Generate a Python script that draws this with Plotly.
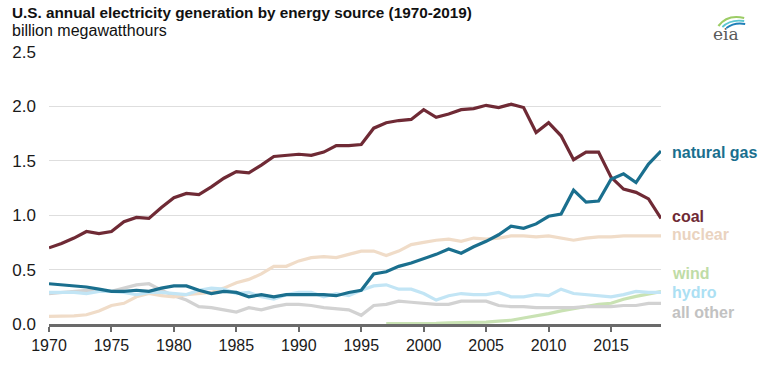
import plotly.graph_objects as go

years = list(range(1970, 2020))

coal = [0.70, 0.74, 0.79, 0.85, 0.83, 0.85, 0.94, 0.98, 0.97, 1.07,
        1.16, 1.20, 1.19, 1.26, 1.34, 1.40, 1.39, 1.46, 1.54, 1.55,
        1.56, 1.55, 1.58, 1.64, 1.64, 1.65, 1.80, 1.85, 1.87, 1.88,
        1.97, 1.90, 1.93, 1.97, 1.98, 2.01, 1.99, 2.02, 1.99, 1.76,
        1.85, 1.73, 1.51, 1.58, 1.58, 1.35, 1.24, 1.21, 1.15, 0.97]

natural_gas = [0.37, 0.36, 0.35, 0.34, 0.32, 0.30, 0.30, 0.31, 0.30, 0.33,
               0.35, 0.35, 0.31, 0.28, 0.30, 0.29, 0.25, 0.27, 0.25, 0.27,
               0.27, 0.27, 0.27, 0.26, 0.29, 0.31, 0.46, 0.48, 0.53, 0.56,
               0.60, 0.64, 0.69, 0.65, 0.71, 0.76, 0.82, 0.90, 0.88, 0.92,
               0.99, 1.01, 1.23, 1.12, 1.13, 1.33, 1.38, 1.30, 1.47, 1.59]

nuclear = [0.07, 0.07, 0.075, 0.085, 0.12, 0.17, 0.19, 0.25, 0.28, 0.26,
           0.25, 0.27, 0.28, 0.29, 0.33, 0.38, 0.41, 0.46, 0.53, 0.53,
           0.58, 0.61, 0.62, 0.61, 0.64, 0.67, 0.67, 0.63, 0.67, 0.73,
           0.75, 0.77, 0.78, 0.76, 0.79, 0.78, 0.79, 0.81, 0.81, 0.80,
           0.81, 0.79, 0.77, 0.79, 0.80, 0.80, 0.81, 0.81, 0.81, 0.81]

hydro = [0.29, 0.29, 0.29, 0.28, 0.30, 0.30, 0.29, 0.27, 0.29, 0.29,
         0.28, 0.27, 0.31, 0.33, 0.32, 0.28, 0.29, 0.25, 0.23, 0.27,
         0.29, 0.29, 0.25, 0.28, 0.26, 0.31, 0.35, 0.36, 0.32, 0.32,
         0.28, 0.22, 0.26, 0.28, 0.27, 0.27, 0.29, 0.25, 0.25, 0.27,
         0.26, 0.32, 0.28, 0.27, 0.26, 0.25, 0.27, 0.30, 0.29, 0.29]

all_other = [0.28, 0.29, 0.30, 0.31, 0.30, 0.30, 0.33, 0.36, 0.37, 0.31,
             0.26, 0.22, 0.16, 0.15, 0.13, 0.11, 0.15, 0.13, 0.16, 0.18,
             0.18, 0.17, 0.15, 0.14, 0.13, 0.08, 0.17, 0.18, 0.21, 0.20,
             0.19, 0.18, 0.18, 0.21, 0.21, 0.21, 0.17, 0.16, 0.16, 0.15,
             0.15, 0.15, 0.15, 0.16, 0.16, 0.16, 0.17, 0.17, 0.19, 0.19]

wind_years = list(range(1997, 2020))
wind = [0.003, 0.003, 0.0045, 0.0056, 0.0067, 0.0104, 0.0112, 0.0142, 0.0178, 0.0266,
        0.0345, 0.0554, 0.0739, 0.0949, 0.1200, 0.1404, 0.1676, 0.1818, 0.1908, 0.2270,
        0.2543, 0.2726, 0.2980]

series_names = ["natural gas", "coal", "nuclear", "wind", "hydro", "all other"]
label_values = [1.575, 0.985, 0.82, 0.46, 0.285, 0.11]

x_ticks = [1970, 1975, 1980, 1985, 1990, 1995, 2000, 2005, 2010, 2015]
y_ticks = [0.0, 0.5, 1.0, 1.5, 2.0, 2.5]
y_tick_text = ["0.0", "0.5", "1.0", "1.5", "2.0", "2.5"]

colors = {
    "natural gas": "#1a6f8e",
    "coal": "#6f2a35",
    "nuclear": "#f0dcc8",
    "wind": "#c9e2b3",
    "hydro": "#c2e5f5",
    "all other": "#d2d2d2",
}
label_colors = {
    "natural gas": "#1a6f8e",
    "coal": "#6f2a35",
    "nuclear": "#ead3bf",
    "wind": "#bfdca6",
    "hydro": "#ace0f3",
    "all other": "#c2c2c2",
}

FONT = "Liberation Sans, Arial, sans-serif"
W, H = 771, 380
L, R, T, B = 43, 110, 52, 56
PW, PH = W - L - R, H - T - B


def px(xp):
    return (xp - L) / PW


def py(yp):
    return (H - B - yp) / PH


fig = go.Figure()

line_w = 3.2
fig.add_trace(go.Scatter(x=wind_years, y=wind, mode="lines",
                         line=dict(color=colors["wind"], width=line_w), name="wind"))
fig.add_trace(go.Scatter(x=years, y=all_other, mode="lines",
                         line=dict(color=colors["all other"], width=line_w), name="all other"))
fig.add_trace(go.Scatter(x=years, y=nuclear, mode="lines",
                         line=dict(color=colors["nuclear"], width=line_w), name="nuclear"))
fig.add_trace(go.Scatter(x=years, y=hydro, mode="lines",
                         line=dict(color=colors["hydro"], width=line_w), name="hydro"))
fig.add_trace(go.Scatter(x=years, y=coal, mode="lines",
                         line=dict(color=colors["coal"], width=line_w), name="coal"))
fig.add_trace(go.Scatter(x=years, y=natural_gas, mode="lines",
                         line=dict(color=colors["natural gas"], width=line_w), name="natural gas"))

annotations = []
for name, val in zip(series_names, label_values):
    annotations.append(dict(
        x=px(670), xref="paper", y=val, yref="y", xanchor="left", yanchor="middle",
        text="<b>" + name + "</b>", showarrow=False,
        font=dict(family=FONT, size=16, color=label_colors[name])))

annotations.append(dict(
    x=px(4), xref="paper", y=py(12.5), yref="paper", xanchor="left", yanchor="middle",
    text="<b>U.S. annual electricity generation by energy source (1970-2019)</b>",
    showarrow=False, font=dict(family=FONT, size=15.3, color="#111111")))
annotations.append(dict(
    x=px(4), xref="paper", y=py(30.5), yref="paper", xanchor="left", yanchor="middle",
    text="billion megawatthours", showarrow=False,
    font=dict(family=FONT, size=16, color="#111111")))
annotations.append(dict(
    x=px(727), xref="paper", y=py(34), yref="paper", xanchor="center", yanchor="middle",
    text="eia", showarrow=False,
    font=dict(family="DejaVu Serif, Liberation Serif, serif", size=17, color="#5a5a5a")))


def arc(x0, y0, cx, cy, x1, y1):
    return "M %f,%f Q %f,%f %f,%f" % (px(x0), py(y0), px(cx), py(cy), px(x1), py(y1))


shapes = [
    dict(type="path", xref="paper", yref="paper",
         path=arc(719, 26, 728, 14, 745, 18), line=dict(color="#9ccc65", width=2.2)),
    dict(type="path", xref="paper", yref="paper",
         path=arc(723, 27, 731, 19, 745, 21), line=dict(color="#5cc6d0", width=1.8)),
    dict(type="path", xref="paper", yref="paper",
         path=arc(727, 28, 735, 22, 746, 24), line=dict(color="#1f7fb8", width=1.8)),
]

fig.update_layout(
    width=W, height=H,
    margin=dict(l=L, r=R, t=T, b=B, pad=0),
    paper_bgcolor="white", plot_bgcolor="white",
    showlegend=False,
    annotations=annotations,
    shapes=shapes,
    xaxis=dict(
        range=[1970, 2019], tickmode="array", tickvals=x_ticks,
        ticktext=[str(v) for v in x_ticks],
        showgrid=False, zeroline=False,
        showline=True, linecolor="#6a6a6a", linewidth=2.5,
        ticks="outside", ticklen=5, tickwidth=1.5, tickcolor="#6a6a6a",
        tickfont=dict(family=FONT, size=16, color="#1a1a1a"),
        ticklabelstandoff=0, fixedrange=True,
    ),
    yaxis=dict(
        range=[0, 2.5], tickmode="array", tickvals=y_ticks, ticktext=y_tick_text,
        showgrid=True, gridcolor="#dedede", gridwidth=1.2,
        zeroline=False, showline=False,
        ticks="", tickfont=dict(family=FONT, size=17, color="#1a1a1a"),
        ticklabelstandoff=12, fixedrange=True,
    ),
)

fig.write_html(
    "out.html",
    config={"displayModeBar": False, "responsive": False},
    post_script="document.body.style.margin='0px';document.body.style.padding='0px';"
                "document.documentElement.style.overflow='hidden';",
)
